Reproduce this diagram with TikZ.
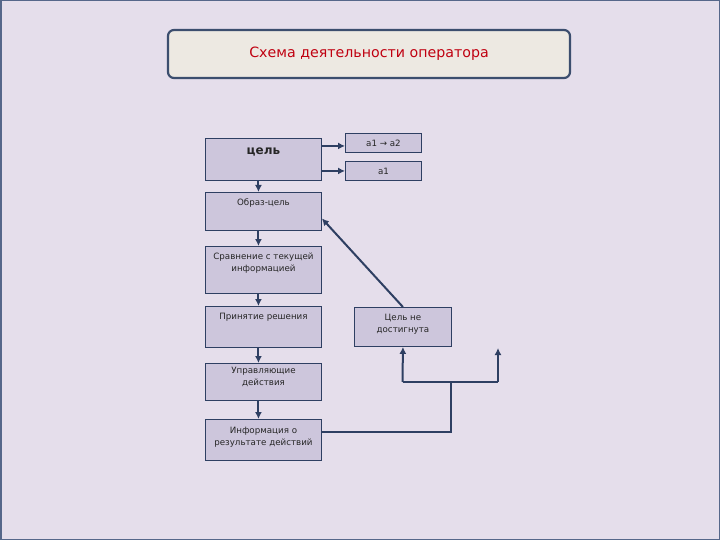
\documentclass[tikz,border=0pt]{standalone}
\usepackage{fontspec}
\setmainfont{DejaVu Sans}
\usetikzlibrary{arrows.meta,positioning}
\definecolor{bgc}{HTML}{E5DEEB}
\definecolor{framec}{HTML}{56678A}
\definecolor{titlefill}{HTML}{EDE9E2}
\definecolor{titleline}{HTML}{3C4E6E}
\definecolor{titletext}{HTML}{C00010}
\definecolor{boxc}{HTML}{CDC6DC}
\definecolor{linec}{HTML}{2E3F62}
\tikzset{
  box/.style={draw=linec, fill=boxc, line width=0.9pt, anchor=north west, minimum width=116, minimum height=40, inner sep=0},
  txt/.style={font=\fontsize{8.7}{12}\selectfont, text=black!85, align=center, inner sep=0},
  arr/.style={-{Latex[length=7pt,width=7pt]}, draw=linec, line width=2pt},
  wire/.style={draw=linec, line width=1.6pt}
}
\begin{document}
\begin{tikzpicture}[x=1pt,y=-1pt]
    \useasboundingbox (0,0) rectangle (720,540);
    \fill[bgc] (0,0) rectangle (720,540);
    \draw[framec, line width=1.5pt] (0.75,0.75) rectangle (719.25,539.25);

    % title
    \node[draw=titleline, fill=titlefill, line width=2.2pt, rounded corners=6pt, minimum width=402, minimum height=48, text=titletext, font=\fontsize{14.2}{16}\selectfont] (title) at (369,54) {Схема деятельности оператора};

    % left column
    \node[box, minimum height=42] (goal) at (205,138) {};
    \node[txt, font=\fontsize{12}{14}\selectfont\bfseries] (goaltxt) at ([yshift=-14pt]goal.north) {цель};
    \node[box, minimum height=38] (image) at (205,192) {};
    \node[txt] (imagetxt) at ([yshift=-11pt]image.north) {Образ-цель};
    \node[box, minimum height=47] (compare) at (205,246) {};
    \node[txt] (comparetxt) at ([yshift=-17.5pt]compare.north) {Сравнение с текущей\\информацией};
    \node[box, minimum height=41] (decide) at (205,306) {};
    \node[txt] (decidetxt) at ([yshift=-11pt]decide.north) {Принятие решения};
    \node[box, minimum height=37] (control) at (205,363) {};
    \node[txt] (controltxt) at ([yshift=-14pt]control.north) {Управляющие\\действия};
    \node[box, minimum height=41] (info) at (205,419) {};
    \node[txt] (infotxt) at ([yshift=-18pt]info.north) {Информация о\\результате действий};

    % right side
    \node[box, minimum width=76, minimum height=19] (atwo) at (345,133) {};
    \node[txt] (atwotxt) at (atwo.center) {а1 → а2};
    \node[box, minimum width=76, minimum height=19] (aone) at (345,161) {};
    \node[txt] (aonetxt) at (aone.center) {а1};
    \node[box, minimum width=97, minimum height=39] (nogoal) at (354,307) {};
    \node[txt] (nogoaltxt) at ([yshift=-17pt]nogoal.north) {Цель не\\достигнута};

    \coordinate (jl) at (402.5,382);
    \coordinate (jr) at (498,382);
    \coordinate (jm) at (451,382);
    \coordinate (jb) at (451,432);
    \coordinate (rtip) at (498,348);

    % connectors
    \draw[arr] ([yshift=-3pt]goal.east |- atwo.west) -- ([yshift=-3pt]atwo.west);
    \draw[arr] (goal.east |- aone.west) -- (aone.west);
    \draw[arr] ([xshift=-5pt]goal.south) -- ([xshift=-5pt]image.north);
    \draw[arr] ([xshift=-5pt]image.south) -- ([xshift=-5pt]compare.north);
    \draw[arr] ([xshift=-5pt]compare.south) -- ([xshift=-5pt]decide.north);
    \draw[arr] ([xshift=-5pt]decide.south) -- ([xshift=-5pt]control.north);
    \draw[arr] ([xshift=-5pt]control.south) -- ([xshift=-5pt]info.north);
    \draw[arr] (nogoal.north) -- ([yshift=-7pt]image.east);
    \draw[arr] (jl) -- (nogoal.south);
    \draw[arr] (jr) -- (rtip);
    \draw[wire] (jl) -- (jr);
    \draw[wire] (jm) -- (jb) -- (jb -| info.east);
\end{tikzpicture}
\end{document}
